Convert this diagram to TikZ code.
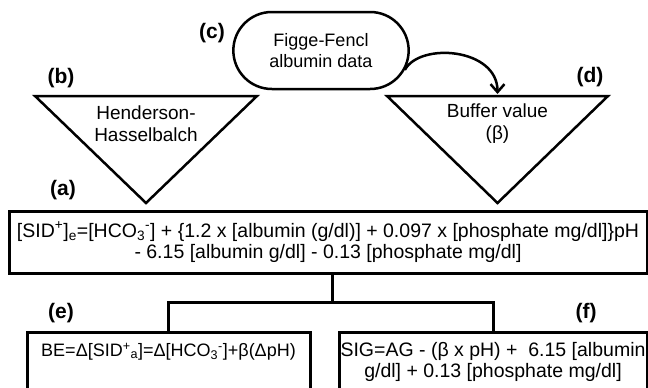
\documentclass[tikz,border=0pt]{standalone}
\usepackage{fontspec}
\setmainfont{Liberation Sans}
\usetikzlibrary{shapes.misc,arrows.meta}

\begin{document}
\begin{tikzpicture}[x=1pt,y=-1pt,
        lbl/.style={font=\fontsize{21}{24}\selectfont\bfseries},
        tri/.style={line width=2.5pt},
        tritext/.style={align=center,font=\fontsize{19}{22}\selectfont},
        eqbox/.style={draw,line width=3pt,rectangle,align=center,inner sep=0pt,font=\fontsize{19.5}{21}\selectfont},
        wire/.style={line width=3pt}]
                \useasboundingbox (0,0) rectangle (648,388);
                \clip (0,0) rectangle (648,388);

                \node[draw,line width=2.5pt,rounded rectangle,minimum width=182,minimum height=77,tritext,font=\fontsize{18}{21}\selectfont] (c) at (321,50.5) {Figge-Fencl\\albumin data};

                \draw[tri] (35,96) -- (257,96) -- (146,203) -- cycle;
                \node[tritext] (hh) at (146,124) {Henderson-\\Hasselbalch};
                \draw[tri] (387,96) -- (608,96) -- (497.5,203) -- cycle;
                \node[tritext] (bv) at (497.5,124) {Buffer value\\(β)};
                \coordinate (dtop) at (497.5,94);

                \draw[line width=2.5pt,-{Straight Barb[length=8pt,width=14pt]}] (c.-13) .. controls (420,42) and (497.5,48) .. (dtop);

                \node[eqbox,minimum width=638,minimum height=62] (a) at (328,242) {[SID\textsuperscript{+}]\textsubscript{e}=[HCO\textsubscript{3}\textsuperscript{-}] + \{1.2 x [albumin (g/dl)] + 0.097 x [phosphate mg/dl]\}pH\\- 6.15 [albumin g/dl] - 0.13 [phosphate mg/dl]};
                \node[eqbox,minimum width=283,minimum height=60,text depth=25pt,font=\fontsize{18}{21}\selectfont] (e) at (168.5,362) {BE=Δ[SID\textsuperscript{+}\textsubscript{a}]=Δ[HCO\textsubscript{3}\textsuperscript{-}]+β(ΔpH)};
                \node[eqbox,minimum width=308,minimum height=60] (f) at (493,362) {SIG=AG - (β x pH) +\ \ 6.15 [albumin\\g/dl] + 0.13 [phosphate mg/dl]};

                \coordinate (split) at (332,302);
                \draw[wire] (a.south -| split) -- (split);
                \draw[wire] (e.north) |- (split) -| (f.north);

                \node[lbl] (lc) at (212,33) {(c)};
                \node[lbl] (lb) at (61,78) {(b)};
                \node[lbl] (ld) at (590,77) {(d)};
                \node[lbl] (la) at (63,190) {(a)};
                \node[lbl] (le) at (61,313) {(e)};
                \node[lbl] (lf) at (586,313) {(f)};
            \end{tikzpicture}
\end{document}
